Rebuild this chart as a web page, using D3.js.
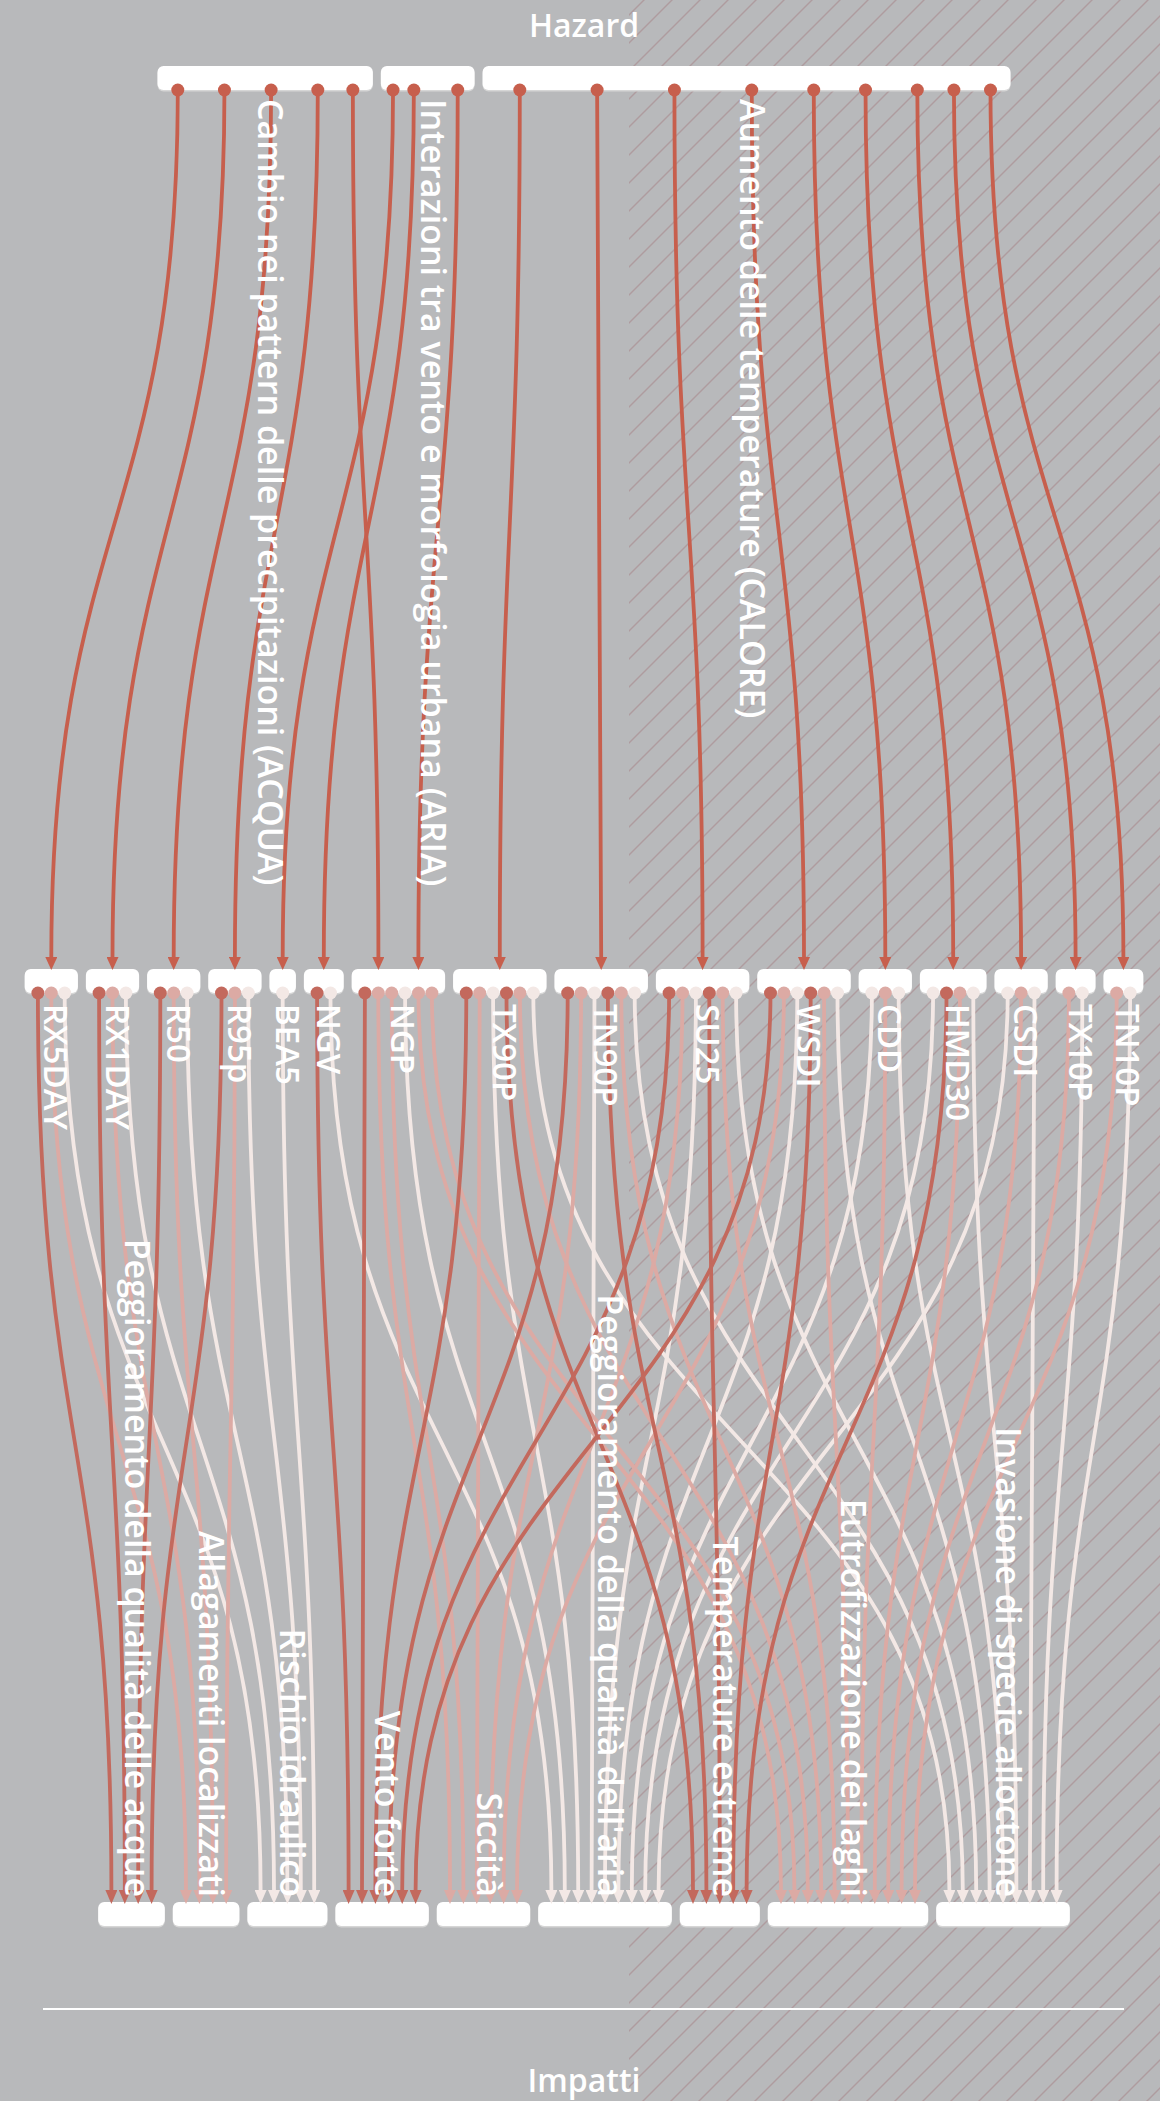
<!DOCTYPE html>
<html>
<head>
<meta charset="utf-8">
<script src="https://cdn.jsdelivr.net/npm/d3@7"></script>
<style>
html, body { margin: 0; padding: 0; background: #b8b9bb; }
svg { display: block; font-family: "Open Sans", sans-serif; }
</style>
</head>
<body>
<svg id="chart" width="1160" height="2101"></svg>
<script>
// --- data ---------------------------------------------------------------
const hazardKeys   = ['ACQUA', 'ARIA', 'CALORE'];
const hazardLabels = [
    'Cambio nei pattern delle precipitazioni (ACQUA)',
    'Interazioni tra vento e morfologia urbana (ARIA)',
    'Aumento delle temperature (CALORE)'
];

const indicators = ['RX5DAY', 'RX1DAY', 'R50', 'R95p', 'BEA5', 'NGV', 'NGP', 'TX90P',
                    'TN90P', 'SU25', 'WSDI', 'CDD', 'HMD30', 'CSDI', 'TX10P', 'TN10P'];

const impactKeys   = ['acque', 'allagamenti', 'idraulico', 'vento', 'siccita',
                      'aria', 'temperature', 'laghi', 'alloctone'];
const impactLabels = [
    'Peggioramento della qualità delle acque',
    'Allagamenti localizzati',
    'Rischio idraulico',
    'Vento forte',
    'Siccità',
    'Peggioramento della qualità dell\'aria',
    'Temperature estreme',
    'Eutrofizzazione dei laghi',
    'Invasione di specie alloctone'
];
// intensity class of each impact (0 = strong, 1 = medium, 2 = weak)
const impactLevel = [0, 1, 2, 0, 1, 2, 0, 1, 2];

const hazardLinks = [
    ['ACQUA', 'RX5DAY'], ['ACQUA', 'RX1DAY'], ['ACQUA', 'R50'], ['ACQUA', 'R95p'], ['ACQUA', 'NGP'],
    ['ARIA', 'BEA5'], ['ARIA', 'NGV'], ['ARIA', 'NGP'],
    ['CALORE', 'TX90P'], ['CALORE', 'TN90P'], ['CALORE', 'SU25'], ['CALORE', 'WSDI'], ['CALORE', 'CDD'],
    ['CALORE', 'HMD30'], ['CALORE', 'CSDI'], ['CALORE', 'TX10P'], ['CALORE', 'TN10P']
];

const impactLinks = [
    ['RX5DAY', 'acque'], ['RX5DAY', 'allagamenti'], ['RX5DAY', 'idraulico'],
    ['RX1DAY', 'acque'], ['RX1DAY', 'allagamenti'], ['RX1DAY', 'idraulico'],
    ['R50', 'acque'], ['R50', 'allagamenti'], ['R50', 'idraulico'],
    ['R95p', 'acque'], ['R95p', 'allagamenti'], ['R95p', 'idraulico'],
    ['BEA5', 'idraulico'],
    ['NGV', 'vento'], ['NGV', 'aria'],
    ['NGP', 'vento'], ['NGP', 'siccita'], ['NGP', 'siccita'], ['NGP', 'aria'], ['NGP', 'laghi'], ['NGP', 'laghi'],
    ['TX90P', 'vento'], ['TX90P', 'siccita'], ['TX90P', 'aria'], ['TX90P', 'temperature'], ['TX90P', 'laghi'], ['TX90P', 'alloctone'],
    ['TN90P', 'vento'], ['TN90P', 'siccita'], ['TN90P', 'aria'], ['TN90P', 'temperature'], ['TN90P', 'laghi'], ['TN90P', 'alloctone'],
    ['SU25', 'vento'], ['SU25', 'siccita'], ['SU25', 'aria'], ['SU25', 'temperature'], ['SU25', 'laghi'], ['SU25', 'alloctone'],
    ['WSDI', 'vento'], ['WSDI', 'siccita'], ['WSDI', 'aria'], ['WSDI', 'temperature'], ['WSDI', 'laghi'], ['WSDI', 'alloctone'],
    ['CDD', 'aria'], ['CDD', 'laghi'], ['CDD', 'alloctone'],
    ['HMD30', 'aria'], ['HMD30', 'temperature'], ['HMD30', 'laghi'], ['HMD30', 'alloctone'],
    ['CSDI', 'aria'], ['CSDI', 'laghi'], ['CSDI', 'alloctone'],
    ['TX10P', 'laghi'], ['TX10P', 'alloctone'],
    ['TN10P', 'laghi'], ['TN10P', 'alloctone']
];

// --- layout -------------------------------------------------------------
const W = 1160, H = 2101, cx = 584;
const step = 13.4, pad = 13, gap = 8;
const topRowWidth = 853;
const yTop = 66, yMid = 970, yBot = 1902, barH = 24;
const hatchX = 629;

const levelColor = ['#c3695d', '#dcaaa4', '#f3e8e5'];
const hazardColor = '#c75f4d';

const svg  = d3.select('#chart');
const defs = svg.append('defs');

function row(keys, widths) {
    const total = d3.sum(widths) + gap * (keys.length - 1);
    let x = cx - total / 2;
    const m = new Map();
    keys.forEach((k, i) => {
        m.set(k, {x0: x, x1: x + widths[i], w: widths[i], c: x + widths[i] / 2});
        x += widths[i] + gap;
    });
    return m;
}

const outCount = indicators.map(k => impactLinks.filter(l => l[0] === k).length);
const inCount  = impactKeys.map(k => impactLinks.filter(l => l[1] === k).length);
const midRow = row(indicators, outCount.map(n => pad + step * n));
const botRow = row(impactKeys, inCount.map(n => pad + step * n));

const downstream = hazardKeys.map(h =>
    d3.sum(hazardLinks.filter(l => l[0] === h), l => outCount[indicators.indexOf(l[1])]));
const wRaw = downstream.map(d => Math.pow(d, 1.2));
const wSum = d3.sum(wRaw);
const topRow = row(hazardKeys, wRaw.map(v => v / wSum * (topRowWidth - gap * (hazardKeys.length - 1))));

// hazard arrows into the indicator bars
const hz = hazardLinks.map(([h, t]) => ({h, t}));
indicators.forEach(k => {
    const ls = hz.filter(l => l.t === k)
        .sort((a, b) => hazardKeys.indexOf(a.h) - hazardKeys.indexOf(b.h));
    const b = midRow.get(k);
    ls.forEach((l, i) => { l.x2 = b.c + (i - (ls.length - 1) / 2) * 40; });
});

// hazard dots: projection of the targets, kept inside the bar
const first = midRow.get(indicators[0]), last = midRow.get(indicators[indicators.length - 1]);
const tFirst = topRow.get(hazardKeys[0]), tLast = topRow.get(hazardKeys[hazardKeys.length - 1]);
const project = d3.scaleLinear().domain([first.x0, last.x1]).range([tFirst.x0, tLast.x1]);
hazardKeys.forEach(h => {
    const b  = topRow.get(h);
    const ls = hz.filter(l => l.h === h)
        .sort((a, c) => indicators.indexOf(a.t) - indicators.indexOf(c.t));
    const p  = Math.min(20, b.w * 0.13);
    const lo = b.x0 + p, hi = b.x1 - p;
    const g  = Math.min(40, 0.6 * (hi - lo) / Math.max(1, ls.length - 1));
    const xs = ls.map(l => Math.max(lo, Math.min(hi, project(l.x2))));
    for (let i = 1; i < xs.length; i++) xs[i] = Math.max(xs[i], xs[i - 1] + g);
    xs[xs.length - 1] = Math.min(xs[xs.length - 1], hi);
    for (let i = xs.length - 2; i >= 0; i--) xs[i] = Math.min(xs[i], xs[i + 1] - g);
    ls.forEach((l, i) => { l.x1 = xs[i]; });
});

// indicator -> impact links
const il = impactLinks.map(([s, t], i) => ({s, t, i, level: impactLevel[impactKeys.indexOf(t)]}));
indicators.forEach(k => {
    const ls = il.filter(l => l.s === k)
        .sort((a, b) => impactKeys.indexOf(a.t) - impactKeys.indexOf(b.t) || a.i - b.i);
    const b = midRow.get(k);
    ls.forEach((l, j) => { l.x1 = b.c + (j - (ls.length - 1) / 2) * step; l.order = j; });
});
impactKeys.forEach(k => {
    const ls = il.filter(l => l.t === k)
        .sort((a, b) => indicators.indexOf(a.s) - indicators.indexOf(b.s) || a.order - b.order);
    const b = botRow.get(k);
    ls.forEach((l, j) => { l.x2 = b.c + (j - (ls.length - 1) / 2) * step; });
});

// --- background ---------------------------------------------------------
svg.append('rect').attr('width', W).attr('height', H).attr('fill', '#b8b9bb');

const pat = defs.append('pattern')
    .attr('id', 'hatch')
    .attr('patternUnits', 'userSpaceOnUse')
    .attr('width', 28).attr('height', 28);
pat.append('path')
    .attr('d', 'M0,28L28,0M-7,7L7,-7M21,35L35,21')
    .attr('stroke', '#a7898c')
    .attr('stroke-width', 1.5)
    .attr('opacity', 0.6);
svg.append('rect')
    .attr('x', hatchX).attr('y', 0)
    .attr('width', W - hatchX).attr('height', H)
    .attr('fill', 'url(#hatch)');

// --- markers ------------------------------------------------------------
function marker(id, color, len) {
    defs.append('marker')
        .attr('id', id)
        .attr('viewBox', `0 -6 ${len} 12`)
        .attr('refX', 0).attr('refY', 0)
        .attr('markerWidth', len).attr('markerHeight', 12)
        .attr('markerUnits', 'userSpaceOnUse')
        .attr('orient', 'auto')
        .append('path')
        .attr('d', `M0,-6L${len},0L0,6Z`)
        .attr('fill', color);
}
marker('arrow-h', hazardColor, 13);
levelColor.forEach((c, i) => marker('arrow-' + i, c, 14));

// --- bars ---------------------------------------------------------------
function bars(m, y) {
    const g = svg.append('g');
    const data = Array.from(m.values());
    g.selectAll('rect.shadow').data(data).join('rect')
        .attr('class', 'shadow')
        .attr('x', d => d.x0).attr('y', y + 1.5)
        .attr('width', d => d.w).attr('height', barH)
        .attr('rx', 6).attr('fill', '#d6d6d6');
    g.selectAll('rect.bar').data(data).join('rect')
        .attr('class', 'bar')
        .attr('x', d => d.x0).attr('y', y)
        .attr('width', d => d.w).attr('height', barH)
        .attr('rx', 6).attr('fill', '#ffffff');
}
bars(topRow, yTop);
bars(midRow, yMid - 1);
bars(botRow, yBot);

const link = d3.linkVertical().x(d => d[0]).y(d => d[1]);

// --- hazard -> indicator ------------------------------------------------
const gTop = svg.append('g');
gTop.selectAll('path').data(hz).join('path')
    .attr('d', d => link({source: [d.x1, yTop + barH], target: [d.x2, yMid - 13]}))
    .attr('fill', 'none')
    .attr('stroke', hazardColor)
    .attr('stroke-width', 3.8)
    .attr('marker-end', 'url(#arrow-h)');
gTop.selectAll('circle').data(hz).join('circle')
    .attr('cx', d => d.x1).attr('cy', yTop + barH)
    .attr('r', 6.5).attr('fill', hazardColor);

// --- indicator -> impact ------------------------------------------------
const drawOrder = il.slice().sort((a, b) => b.level - a.level);
const gBot = svg.append('g');
gBot.selectAll('path').data(drawOrder).join('path')
    .attr('d', d => link({source: [d.x1, yMid + barH - 1], target: [d.x2, yBot + 2 - 14]}))
    .attr('fill', 'none')
    .attr('stroke', d => levelColor[d.level])
    .attr('stroke-width', 3.8)
    .attr('marker-end', d => `url(#arrow-${d.level})`);
gBot.selectAll('circle').data(drawOrder).join('circle')
    .attr('cx', d => d.x1).attr('cy', yMid + barH - 1)
    .attr('r', 6.5).attr('fill', d => levelColor[d.level]);

// --- labels -------------------------------------------------------------
function vLabels(keys, labels, m, y, anchor, size) {
    svg.append('g').selectAll('text').data(keys).join('text')
        .attr('transform', k => `translate(${m.get(k).c - 7},${y}) rotate(90)`)
        .attr('text-anchor', anchor)
        .attr('font-size', size)
        .attr('font-weight', 600)
        .attr('fill', '#ffffff')
        .text((k, i) => labels[i]);
}
vLabels(hazardKeys, hazardLabels, topRow, yTop + barH + 9, 'start', 34);
vLabels(indicators, indicators, midRow, yMid + barH + 10, 'start', 33);
vLabels(impactKeys, impactLabels, botRow, yBot - 5, 'end', 34);

svg.append('line')
    .attr('x1', 43).attr('x2', 1124)
    .attr('y1', 2009).attr('y2', 2009)
    .attr('stroke', '#ffffff').attr('stroke-width', 2);

svg.append('text')
    .attr('x', cx).attr('y', 37)
    .attr('text-anchor', 'middle')
    .attr('font-size', 32).attr('font-weight', 600)
    .attr('fill', '#ffffff')
    .text('Hazard');
svg.append('text')
    .attr('x', cx).attr('y', 2092)
    .attr('text-anchor', 'middle')
    .attr('font-size', 32).attr('font-weight', 600)
    .attr('fill', '#ffffff')
    .text('Impatti');
</script>
</body>
</html>
